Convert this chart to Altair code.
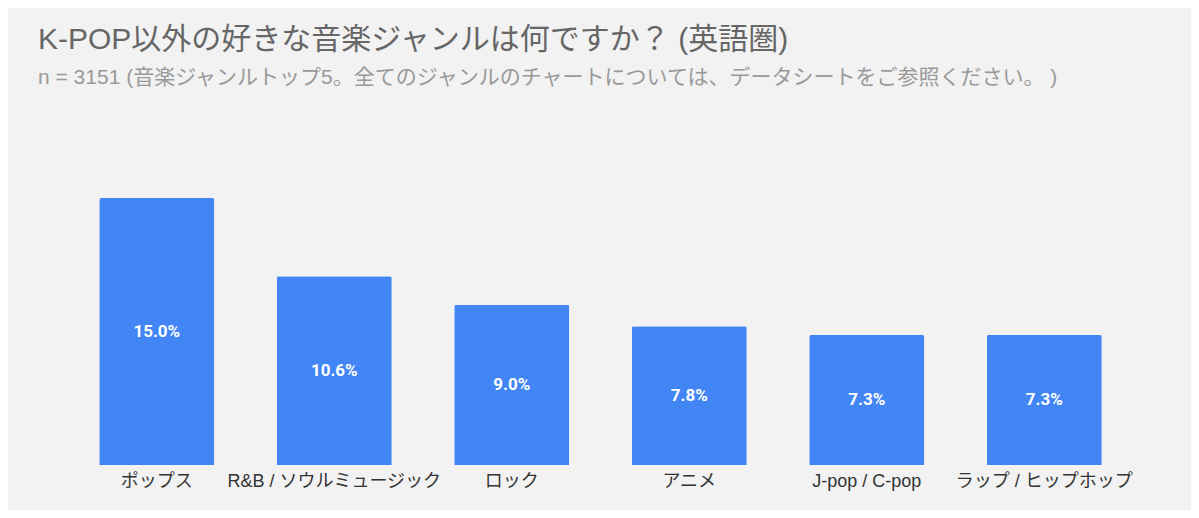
import altair as alt
import pandas as pd

genres = ["ポップス", "R&B / ソウルミュージック", "ロック", "アニメ", "J-pop / C-pop", "ラップ / ヒップホップ"]
shares = [15.0, 10.6, 9.0, 7.8, 7.3, 7.3]
labels = ["15.0%", "10.6%", "9.0%", "7.8%", "7.3%", "7.3%"]

df = pd.DataFrame({"genre": genres, "share": shares, "label": labels})

FONT = "'Liberation Sans', Arial, 'Noto Sans CJK JP', sans-serif"
VFONT = "Roboto, 'Noto Sans CJK JP', sans-serif"

x = alt.X(
    "genre:N", sort=genres, title=None,
    scale=alt.Scale(paddingInner=0.352, paddingOuter=0.176),
    axis=alt.Axis(labelAngle=0, domain=False, ticks=False, labelFontSize=18,
                  labelColor="#333333", labelFont=FONT, labelPadding=7, labelLimit=300),
)
y = alt.Y("share:Q", scale=alt.Scale(domain=[0, 20]), axis=None)

bars = alt.Chart(df).mark_bar(
    color="#4285f4", cornerRadiusTopLeft=2, cornerRadiusTopRight=2
).encode(x=x, y=y)

text = alt.Chart(df).transform_calculate(mid="datum.share / 2").mark_text(
    color="white", fontSize=17, fontWeight="bold", font=VFONT
).encode(
    x=alt.X("genre:N", sort=genres),
    y=alt.Y("mid:Q"),
    text="label:N",
)

chart = (bars + text).properties(
    width=1065,
    height=356,
    autosize=alt.AutoSizeParams(type="none"),
    padding={"left": 60, "top": 101, "right": 58, "bottom": 45},
    background="#f2f2f2",
    title=alt.TitleParams(
        text="K-POP以外の好きな音楽ジャンルは何ですか？ (英語圏)",
        subtitle="n = 3151 (音楽ジャンルトップ5。全てのジャンルのチャートについては、データシートをご参照ください。 )",
        anchor="start", fontSize=30, color="#666666", font=FONT, fontWeight="normal",
        subtitleFontSize=21, subtitleColor="#999999", subtitleFont=FONT,
        dx=-30, offset=21, subtitlePadding=12,
    ),
).configure_view(stroke=None)

chart.save("out.html", embed_options={"renderer": "svg", "actions": False})
